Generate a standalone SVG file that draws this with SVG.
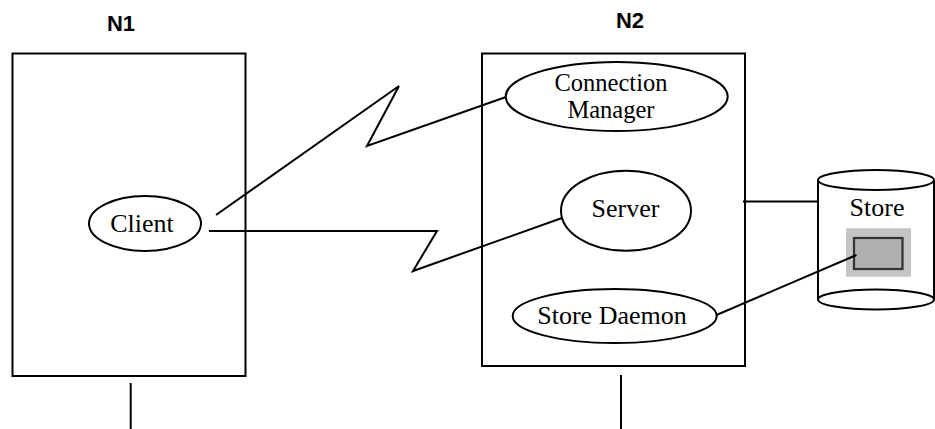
<svg xmlns="http://www.w3.org/2000/svg" width="935" height="429" viewBox="0 0 935 429">
<style>
.box{fill:none;stroke:#000;stroke-width:2}
.ell{fill:#fff;stroke:#000;stroke-width:2}
.ln{fill:none;stroke:#000;stroke-width:2;stroke-linejoin:miter}
.t{font-family:"Liberation Serif","Times New Roman",serif;font-size:26px;fill:#000;text-anchor:middle}
.t2{font-family:"Liberation Serif","Times New Roman",serif;font-size:24.5px;fill:#000;text-anchor:middle}
.h{font-family:"Liberation Sans",Arial,sans-serif;font-weight:bold;font-size:22px;fill:#000;text-anchor:middle}
</style>
<rect width="935" height="429" fill="#fff"/>
<g id="N1">
  <text class="h" x="121" y="31">N1</text>
  <rect class="box" x="12.5" y="53.5" width="233" height="322.5"/>
</g>
<g id="N2">
  <text class="h" x="630" y="28">N2</text>
  <rect class="box" x="482" y="53.5" width="263" height="312.5"/>
</g>
<g id="Client">
  <ellipse class="ell" cx="145" cy="223.5" rx="56" ry="27.5"/>
  <text class="t" x="142" y="232">Client</text>
</g>
<g id="ConnectionManager">
  <ellipse class="ell" cx="616.7" cy="96.5" rx="111" ry="34.5"/>
  <text class="t2" x="611" y="91">Connection</text>
  <text class="t2" x="611" y="118">Manager</text>
</g>
<g id="Server">
  <ellipse class="ell" cx="626" cy="210.7" rx="65" ry="40"/>
  <text class="t" x="625.5" y="217">Server</text>
</g>
<g id="StoreDaemon">
  <ellipse class="ell" cx="614.7" cy="316" rx="102" ry="27"/>
  <text class="t" x="612" y="324">Store Daemon</text>
</g>
<g id="Store">
  <path class="ell" d="M818,180 L818,299.5 A58,10 0 0 0 934,299.5 L934,180"/>
  <ellipse class="ell" cx="876" cy="180" rx="58" ry="10"/>
  <path class="box" d="M818,299.5 A58,10 0 0 1 934,299.5"/>
  <text class="t" x="877" y="216">Store</text>
  <rect x="846" y="228.3" width="65" height="48.4" fill="#c4c4c4"/>
  <rect x="854" y="238" width="48.5" height="31" fill="#b0b0b0" stroke="#333" stroke-width="2.2"/>
</g>
<g id="connectors">
  <polyline class="ln" points="216,215 399,86 367,146 506,97"/>
  <polyline class="ln" points="209,231 437,231 413,271 562,218"/>
  <line class="ln" x1="743" y1="201.5" x2="818" y2="201.5"/>
  <line class="ln" x1="716.5" y1="315" x2="856.5" y2="255"/>
  <line class="ln" x1="130.7" y1="383" x2="130.7" y2="429"/>
  <line class="ln" x1="621" y1="375" x2="621" y2="429"/>
</g>
</svg>
